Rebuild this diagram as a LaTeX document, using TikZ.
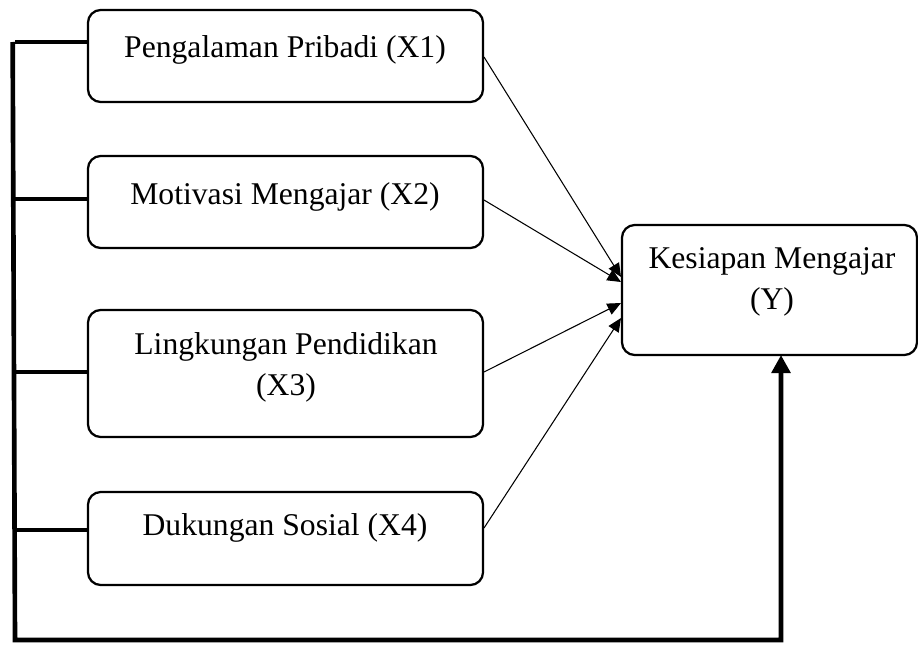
\documentclass[tikz,border=0pt]{standalone}
\usepackage{fontspec}
\setmainfont{Liberation Serif}
\usetikzlibrary{arrows.meta}
\begin{document}
\begin{tikzpicture}[x=0.025cm,y=-0.025cm,
  box/.style={draw,line width=1.6pt,rounded corners=0.32cm,minimum width=9.875cm,inner sep=0pt,outer sep=0pt},
  lbl/.style={align=center,font=\fontsize{22.5}{29}\selectfont,inner sep=0pt},
  thickline/.style={line width=3.3pt},
  thin/.style={line width=0.75pt,-{Triangle[length=0.34cm,width=0.3cm]}},
  bigarrow/.style={line width=3.3pt,-{Triangle[length=0.45cm,width=0.46cm]}}]
\useasboundingbox (0,0) rectangle (918,644);
% boxes
\node[box,minimum height=2.3cm] (b1) at (285.5,56) {};
\node[box,minimum height=2.3cm] (b2) at (285.5,202) {};
\node[box,minimum height=3.175cm] (b3) at (285.5,373.5) {};
\node[box,minimum height=2.325cm] (b4) at (285.5,538.5) {};
\node[box,minimum width=7.375cm,minimum height=3.25cm] (by) at (769.5,290) {};
% texts
\node[lbl] (t1) at (285,50) {Pengalaman Pribadi (X1)};
\node[lbl] (t2) at (285,197) {Motivasi Mengajar (X2)};
\node[lbl] (t3) at (286,367) {Lingkungan Pendidikan\\(X3)};
\node[lbl] (t4) at (285,528) {Dukungan Sosial (X4)};
\node[lbl] (ty) at (772,282) {Kesiapan Mengajar\\(Y)};
% left bus
\coordinate (j1) at (15,42);
\coordinate (j2) at (15,199);
\coordinate (j3) at (15,372);
\coordinate (j4) at (15,530);
\coordinate (jb) at (15,640);
\coordinate (jr) at (781,640);
\draw[thickline] (j1 -| b1.west) -- (j1);
\draw[thickline] (j2) -- (j2 -| b2.west);
\draw[thickline] (j3) -- (j3 -| b3.west);
\draw[thickline] (j4) -- (j4 -| b4.west);
\draw[bigarrow,line join=miter] ([xshift=-1.65pt]j1) -- (jb) -- (jr) -- (jr |- by.south);
% thin arrows
\coordinate (a1) at (621,277);
\coordinate (a2) at (621,282);
\coordinate (a3) at (621,303);
\coordinate (a4) at (621,318);
\coordinate (s1) at (484,57);
\coordinate (s2) at (484,200);
\coordinate (s3) at (484,372);
\coordinate (s4) at (484,528);
\draw[thin] (s1) -- (a1);
\draw[thin] (s2) -- (a2);
\draw[thin] (s3) -- (a3);
\draw[thin] (s4) -- (a4);
\end{tikzpicture}
\end{document}
